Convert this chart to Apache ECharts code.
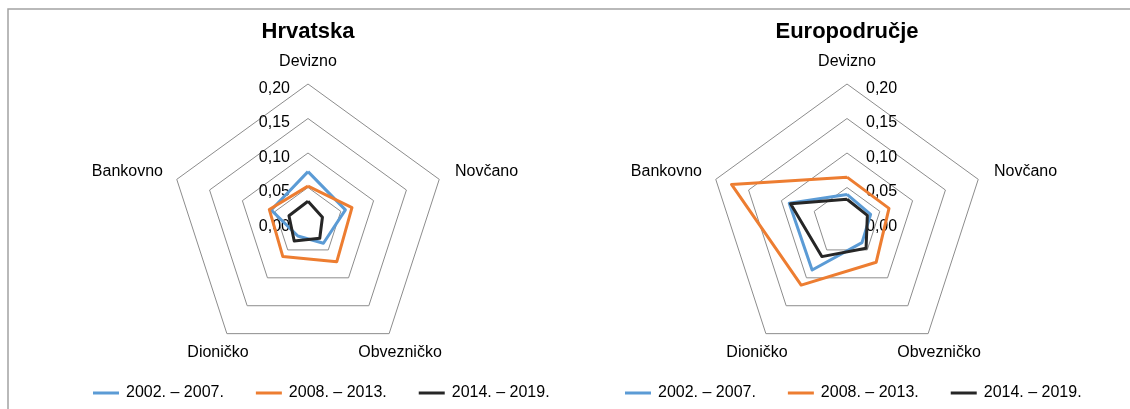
<!DOCTYPE html>
<html>
<head>
<meta charset="utf-8">
<script src="https://cdn.jsdelivr.net/npm/echarts@6/dist/echarts.min.js"></script>
<style>
  html, body { margin: 0; padding: 0; background: #fff; }
  #chart { width: 1130px; height: 409px; }
</style>
</head>
<body>
<div id="chart"></div>
<script>
// Indicators in clockwise order starting from the top
const categories = ['Devizno', 'Novčano', 'Obvezničko', 'Dioničko', 'Bankovno'];
const periods = ['2002. – 2007.', '2008. – 2013.', '2014. – 2019.'];
const titles = ['Hrvatska', 'Europodručje'];
const tickValues = [0, 0.05, 0.10, 0.15, 0.20];

// Hrvatska
const hr2002 = [0.073, 0.057, 0.038, 0.025, 0.056];
const hr2008 = [0.052, 0.067, 0.071, 0.062, 0.059];
const hr2014 = [0.030, 0.022, 0.029, 0.034, 0.029];
// Europodručje
const ea2002 = [0.040, 0.036, 0.037, 0.086, 0.088];
const ea2008 = [0.065, 0.064, 0.072, 0.113, 0.176];
const ea2014 = [0.033, 0.031, 0.047, 0.062, 0.086];

const colors = ['#5B9BD5', '#ED7D31', '#262626'];
const FONT = 'Liberation Sans, Arial, sans-serif';
const CENTERS = [[308, 222], [847, 222]];
const RADIUS = 138;
const AX_MAX = tickValues[tickValues.length - 1];

// ECharts places indicators counter-clockwise; reorder so they run clockwise
const order = [0, 4, 3, 2, 1];
const reorder = arr => order.map(i => arr[i]);

const fmt = v => '{v|' + v.toFixed(2).replace('.', ',') + '}';

// labelSide: 'left' puts scale labels left of the vertical axis, 'right' to its right
function makeRadar(idx, labelSide) {
  return {
    center: CENTERS[idx],
    radius: RADIUS,
    startAngle: 90,
    shape: 'polygon',
    splitNumber: tickValues.length - 1,
    indicator: reorder(categories).map((name, i) => ({
      name: name,
      min: 0,
      max: AX_MAX,
      axisLabel: i === 0 ? {
        show: true,
        fontFamily: FONT,
        fontSize: 16,
        color: '#000',
        margin: labelSide === 'left' ? 18 : -19,
        align: labelSide === 'left' ? 'right' : 'left',
        formatter: fmt,
        rich: {
          v: { fontFamily: FONT, fontSize: 16, color: '#000', padding: [9, 0, 0, 0] }
        }
      } : { show: false }
    })),
    axisName: { show: false },
    axisLine: { show: false },
    axisTick: { show: false },
    splitArea: { show: false },
    splitLine: { lineStyle: { color: '#8c8c8c', width: 1 } }
  };
}

function makeSeries(idx, sets) {
  return {
    type: 'radar',
    radarIndex: idx,
    symbol: 'none',
    silent: true,
    data: sets.map((vals, k) => ({
      name: periods[k],
      value: reorder(vals),
      lineStyle: { color: colors[k], width: 3 },
      itemStyle: { color: colors[k] }
    }))
  };
}

// Indicator names placed around each radar, plus the outer frame
const nameOffsets = [
  { dx: 0, dy: -160, align: 'center' },     // Devizno
  { dx: 147, dy: -50, align: 'left' },      // Novčano
  { dx: 92, dy: 131, align: 'center' },     // Obvezničko
  { dx: -90, dy: 131, align: 'center' },    // Dioničko
  { dx: -145, dy: -50, align: 'right' }     // Bankovno
];
const graphics = [];
CENTERS.forEach(c => {
  categories.forEach((name, i) => {
    const o = nameOffsets[i];
    graphics.push({
      type: 'text',
      x: c[0] + o.dx,
      y: c[1] + o.dy,
      style: {
        text: name,
        fontFamily: FONT,
        fontSize: 16,
        fill: '#000',
        align: o.align,
        verticalAlign: 'middle'
      }
    });
  });
});
graphics.push({
  type: 'polyline',
  shape: { points: [[8, 409], [8, 9], [1130, 9]] },
  style: { stroke: '#a3a3a3', lineWidth: 1.5, fill: null }
});

const legendCommon = {
  data: periods,
  top: 385,
  padding: 0,
  icon: 'rect',
  itemWidth: 26,
  itemHeight: 3,
  itemGap: 32,
  textStyle: { fontFamily: FONT, fontSize: 16, color: '#000', padding: [0, 0, 0, 2] },
  selectedMode: false
};

const option = {
  animation: false,
  title: titles.map((t, i) => ({
    text: t,
    left: CENTERS[i][0],
    top: 21,
    padding: 0,
    textAlign: 'center',
    textStyle: { fontFamily: FONT, fontSize: 22, fontWeight: 'bold', color: '#000' }
  })),
  legend: [
    Object.assign({ left: 93 }, legendCommon),
    Object.assign({ left: 625 }, legendCommon)
  ],
  radar: [makeRadar(0, 'left'), makeRadar(1, 'right')],
  series: [
    makeSeries(0, [hr2002, hr2008, hr2014]),
    makeSeries(1, [ea2002, ea2008, ea2014])
  ],
  graphic: graphics
};

const chart = echarts.init(document.getElementById('chart'), null, { renderer: 'canvas' });
chart.setOption(option);
</script>
</body>
</html>
